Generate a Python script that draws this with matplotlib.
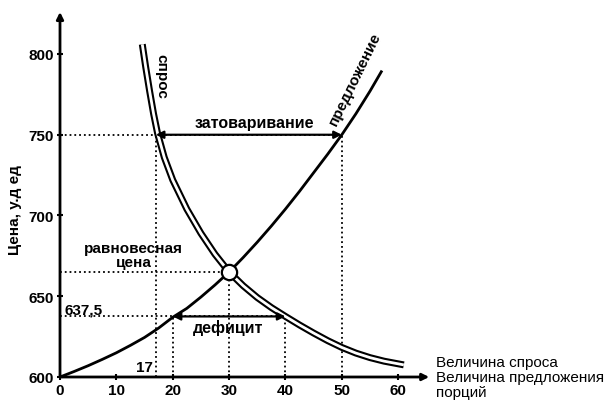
import matplotlib

matplotlib.use("Agg")
import matplotlib.pyplot as plt

# values
DEMAND_Q = [14.6, 15.2, 15.9, 16.6, 17.3, 18.5, 20, 22.5, 25, 27.5, 30, 32.5, 35, 37.5,
            40, 42.5, 45, 47.5, 50, 52.5, 55, 57.5, 61]
DEMAND_P = [806, 792, 777, 763, 751, 736, 722, 704, 689, 676, 665, 656.5, 649.2, 643,
            637.5, 632.2, 627.2, 622.5, 618.3, 614.8, 612, 609.8, 607.5]
SUPPLY_Q = [0, 2.5, 5, 7.5, 10, 12.5, 15, 17.5, 20, 22.5, 25, 27.5, 30, 32.5, 35, 37.5,
            40, 42.5, 45, 47.5, 50, 52.5, 55, 57]
SUPPLY_P = [600, 603.4, 607, 610.9, 615, 619.6, 624.5, 630.3, 637, 642.5, 649.5, 657, 665,
            674, 683.5, 693.5, 704, 715, 726.5, 738, 750, 763, 777, 789]
EQ_Q, EQ_P = 30, 665
SURPLUS_P, SURPLUS_Q = 750, (17, 50)
DEFICIT_P, DEFICIT_Q = 637.5, (20, 40)
X_TICKS = [0, 10, 20, 30, 40, 50, 60]
Y_TICKS = [600, 650, 700, 750, 800]

plt.rcParams["font.family"] = ["Liberation Sans", "DejaVu Sans"]
BOLD = dict(fontweight="bold", fontsize=11)

fig = plt.figure(figsize=(6.12, 4.02), dpi=100)
ax = fig.add_axes([60 / 612, 24 / 402, 372 / 612, 365 / 402])
ax.set_xlim(0, 66)
ax.set_ylim(600, 826)
for s in ax.spines.values():
    s.set_visible(False)

# axes with arrow heads
arr = dict(arrowstyle="-|>", color="black", lw=2, mutation_scale=10, shrinkA=0, shrinkB=0)
ax.annotate("", xy=(0, 826), xytext=(0, 600), arrowprops=arr, annotation_clip=False)
ax.annotate("", xy=(65.5, 600), xytext=(0, 600), arrowprops=arr, annotation_clip=False)

ax.set_xticks(X_TICKS)
ax.set_yticks(Y_TICKS)
ax.set_xticklabels([str(v) for v in X_TICKS], **BOLD)
ax.set_yticklabels([str(v) for v in Y_TICKS], **BOLD)
ax.tick_params(direction="inout", length=5, width=1.5, pad=2)

# dotted guide lines
dot = dict(color="black", ls=":", lw=1.3)
ax.plot([0, SURPLUS_Q[1]], [SURPLUS_P, SURPLUS_P], **dot)
ax.plot([SURPLUS_Q[0]] * 2, [600, SURPLUS_P], **dot)
ax.plot([SURPLUS_Q[1]] * 2, [600, SURPLUS_P], **dot)
ax.plot([0, EQ_Q], [EQ_P, EQ_P], **dot)
ax.plot([EQ_Q, EQ_Q], [600, EQ_P], **dot)
ax.plot([0, DEFICIT_Q[1]], [DEFICIT_P, DEFICIT_P], **dot)
ax.plot([DEFICIT_Q[0]] * 2, [600, DEFICIT_P], **dot)
ax.plot([DEFICIT_Q[1]] * 2, [600, DEFICIT_P], **dot)

# curves: demand drawn as a double line
ax.plot(DEMAND_Q, DEMAND_P, color="black", lw=5.0, solid_capstyle="butt",
        solid_joinstyle="round", zorder=3)
ax.plot(DEMAND_Q, DEMAND_P, color="white", lw=2.0, solid_capstyle="butt",
        solid_joinstyle="round", zorder=3)
ax.plot(SUPPLY_Q, SUPPLY_P, color="black", lw=2, solid_joinstyle="round", zorder=4)
ax.plot([EQ_Q], [EQ_P], "o", ms=11, mfc="white", mec="black", mew=1.6, zorder=5)

# surplus / deficit arrows
dbl = dict(arrowstyle="<|-|>", color="black", lw=1.6, mutation_scale=11, shrinkA=0, shrinkB=0)
ax.annotate("", xy=(SURPLUS_Q[1], SURPLUS_P), xytext=(SURPLUS_Q[0], SURPLUS_P), arrowprops=dbl)
ax.annotate("", xy=(DEFICIT_Q[1], DEFICIT_P), xytext=(DEFICIT_Q[0], DEFICIT_P), arrowprops=dbl)

ax.text(34.4, 753, "затоваривание", ha="center", va="bottom", fontweight="bold",
        fontsize=11.5)
ax.text(29.8, 631, "дефицит", ha="center", va="center", fontweight="bold", fontsize=11.5)
ax.text(17.9, 787, "спрос", ha="center", va="center", rotation=-90, **BOLD)
ax.text(52.4, 785, "предложение", ha="center", va="center", rotation=64, **BOLD)
ax.text(13.1, 675.5, "равновесная\nцена", ha="center", va="center", linespacing=1.0, **BOLD)
ax.text(4.1, 642, "637,5", ha="center", va="center", **BOLD)
ax.text(14.9, 606.5, "17", ha="center", va="center", **BOLD)

fig.text(15 / 612, 1 - 210 / 402, "Цена, у.д ед", rotation=90, ha="center", va="center",
         **BOLD)
ax.text(66.7, 600, "Величина спроса\nВеличина предложения\nпорций", ha="left", va="center",
        linespacing=1.05, clip_on=False, fontsize=11)

fig.savefig("out.png", dpi=100)
